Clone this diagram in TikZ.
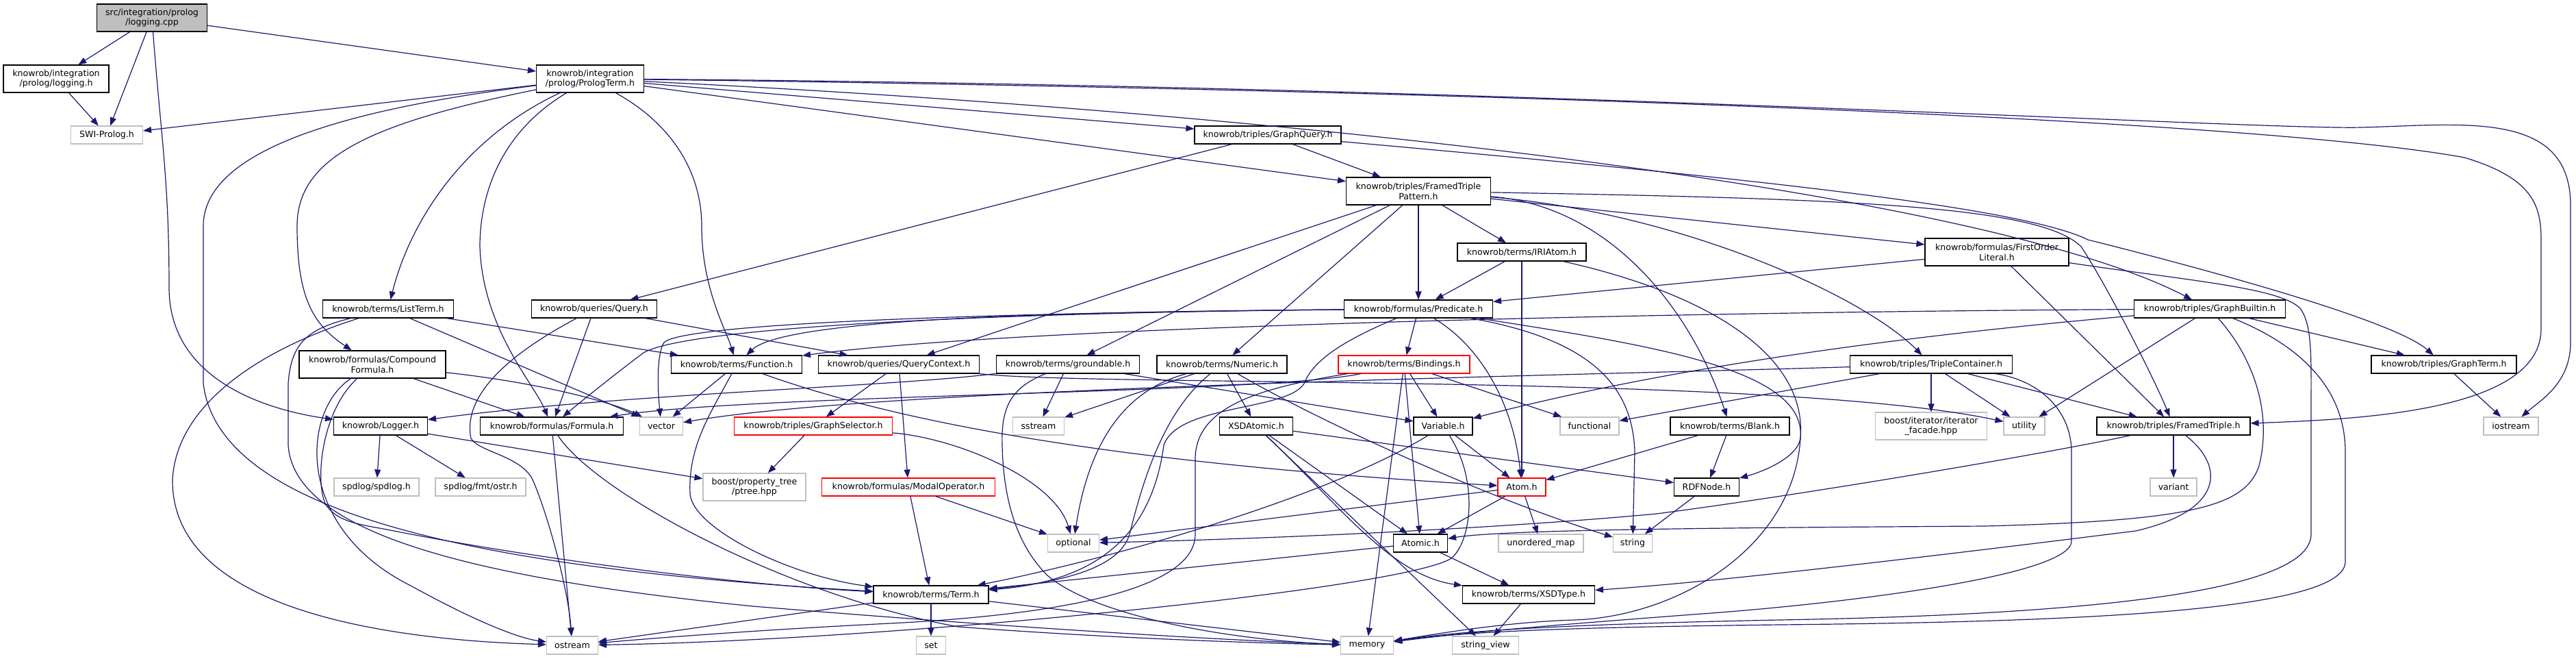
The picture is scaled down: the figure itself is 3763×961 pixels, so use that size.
\documentclass[tikz,border=0pt]{standalone}
\usepackage{fontspec}
\setmainfont{DejaVu Sans}
\usetikzlibrary{arrows.meta}
\definecolor{edgec}{HTML}{191970}
\definecolor{greyc}{HTML}{BFBFBF}
\begin{document}
\begin{tikzpicture}[x=1pt,y=-1pt,
  box/.style={draw, line width=1.1pt, fill=white, inner sep=0pt, align=center, font=\fontsize{12.6}{14.6}\selectfont},
  proj/.style={box, draw=black},
  sys/.style={box, draw=greyc},
  trunc/.style={box, draw=red},
  root/.style={box, draw=black, fill=greyc},
  dep/.style={draw=edgec, line width=1.2pt, -{Triangle[length=12pt,width=9pt]}},
  sa/.style={minimum height=26pt},
  sb/.style={minimum height=40pt},
  mw/.style={minimum width=#1pt},
]
\fill[white] (0,0) rectangle (3763,961);
\path[use as bounding box] (0,0) rectangle (3763,961);

% ---------- nodes ----------
\node[root,sb,mw=161] (cpp) at (222,26) {src/integration/prolog\\/logging.cpp};
\node[proj,sb,mw=154] (logh) at (82,115) {knowrob/integration\\/prolog/logging.h};
\node[sys,sa,mw=105] (swi) at (156,197) {SWI-Prolog.h};
\node[proj,sb,mw=157] (plt) at (862,115) {knowrob/integration\\/prolog/PrologTerm.h};
\node[proj,sa,mw=214] (gq) at (1852,197) {knowrob/triples/GraphQuery.h};
\node[proj,sb,mw=211] (ftp) at (2072,279) {knowrob/triples/FramedTriple\\Pattern.h};
\node[proj,sa,mw=188] (iri) at (2223,368) {knowrob/terms/IRIAtom.h};
\node[proj,sb,mw=210] (fol) at (2917,368) {knowrob/formulas/FirstOrder\\Literal.h};
\node[proj,sa,mw=191] (list) at (567,451) {knowrob/terms/ListTerm.h};
\node[proj,sa,mw=183] (query) at (868,451) {knowrob/queries/Query.h};
\node[proj,sa,mw=217] (pred) at (2072,451) {knowrob/formulas/Predicate.h};
\node[proj,sa,mw=221] (gb) at (3228,451) {knowrob/triples/GraphBuiltin.h};
\node[proj,sb,mw=214] (cf) at (544,532) {knowrob/formulas/Compound\\Formula.h};
\node[proj,sa,mw=191] (func) at (1076,532) {knowrob/terms/Function.h};
\node[proj,sa,mw=235] (qc) at (1313,532) {knowrob/queries/QueryContext.h};
\node[proj,sa,mw=209] (gr) at (1560,532) {knowrob/terms/groundable.h};
\node[proj,sa,mw=190] (num) at (1785,532) {knowrob/terms/Numeric.h};
\node[trunc,sa,mw=192] (bind) at (2051,532) {knowrob/terms/Bindings.h};
\node[proj,sa,mw=237] (tc) at (2821,532) {knowrob/triples/TripleContainer.h};
\node[proj,sa,mw=212] (gt) at (3570,532) {knowrob/triples/GraphTerm.h};
\node[proj,sa,mw=137] (logger) at (556,622) {knowrob/Logger.h};
\node[proj,sa,mw=209] (formula) at (806,622) {knowrob/formulas/Formula.h};
\node[sys,sa,mw=63] (vector) at (966,622) {vector};
\node[trunc,sa,mw=231] (gs) at (1188,622) {knowrob/triples/GraphSelector.h};
\node[sys,sa,mw=75] (sstream) at (1517,622) {sstream};
\node[proj,sa,mw=107] (xsda) at (1835,622) {XSDAtomic.h};
\node[proj,sa,mw=86] (var) at (2108,622) {Variable.h};
\node[sys,sa,mw=86] (functional) at (2322,622) {functional};
\node[proj,sa,mw=174] (blank) at (2527,622) {knowrob/terms/Blank.h};
\node[sys,sb,mw=163] (iter) at (2821,622) {boost/iterator/iterator\\\_facade.hpp};
\node[sys,sa,mw=60] (utility) at (2957,622) {utility};
\node[proj,sa,mw=224] (ft) at (3175,622) {knowrob/triples/FramedTriple.h};
\node[sys,sa,mw=80] (iostream) at (3668,622) {iostream};
\node[sys,sa,mw=124] (spdlog) at (550,711) {spdlog/spdlog.h};
\node[sys,sa,mw=132] (ostr) at (702,711) {spdlog/fmt/ostr.h};
\node[sys,sb,mw=150] (ptree) at (1102,711) {boost/property\_tree\\/ptree.hpp};
\node[trunc,sa,mw=253] (modal) at (1327,711) {knowrob/formulas/ModalOperator.h};
\node[trunc,sa,mw=70] (atom) at (2223,711) {Atom.h};
\node[proj,sa,mw=95] (rdf) at (2493,711) {RDFNode.h};
\node[sys,sa,mw=68] (variant) at (3175,711) {variant};
\node[sys,sa,mw=75] (optional) at (1568,793) {optional};
\node[proj,sa,mw=79] (atomic) at (2075,793) {Atomic.h};
\node[sys,sa,mw=124] (umap) at (2251,793) {unordered\_map};
\node[sys,sa,mw=57] (string) at (2385,793) {string};
\node[proj,sa,mw=168] (term) at (1360,868) {knowrob/terms/Term.h};
\node[proj,sa,mw=193] (xsdt) at (2233,868) {knowrob/terms/XSDType.h};
\node[sys,sa,mw=75] (ostream) at (836,942) {ostream};
\node[sys,sa,mw=43] (set) at (1360,942) {set};
\node[sys,sa,mw=77] (memory) at (1997,942) {memory};
\node[sys,sa,mw=97] (sview) at (2170,942) {string\_view};

% ---------- edges ----------
\draw[dep] (cpp) -- (logh);
\draw[dep] (cpp) -- (swi);
\draw[dep] (cpp) -- (plt);
\draw[dep] (cpp) .. controls (235,200) and (247,260) .. (247,420) .. controls (247,560) and (400,600) .. (logger);
\draw[dep] (logh) -- (swi);

\draw[dep] (plt) -- (swi);
\draw[dep] (plt) -- (gq);
\draw[dep] (plt) -- (ftp);
\draw[dep] (plt) .. controls (680,200) and (600,320) .. (list);
\draw[dep] (plt) .. controls (540,180) and (434,230) .. (434,330) .. controls (434,440) and (460,475) .. (cf);
\draw[dep] (plt) .. controls (720,200) and (701,300) .. (701,360) .. controls (705,480) and (780,560) .. (formula);
\draw[dep] (plt) .. controls (980,180) and (1025,250) .. (1025,330) .. controls (1025,420) and (1060,480) .. (func);
\draw[dep] (plt) .. controls (500,160) and (297,220) .. (297,330) -- (297,560) .. controls (320,750) and (700,830) .. (term);
\draw[dep] (plt) .. controls (1900,165) and (2900,280) .. (gb);
\draw[dep] (plt) .. controls (2200,125) and (3300,190) .. (3450,186) .. controls (3600,182) and (3755,160) .. (3755,300) -- (3755,500) .. controls (3755,560) and (3710,585) .. (iostream);
\draw[dep] (plt) .. controls (2200,132) and (3300,175) .. (3600,230) .. controls (3700,260) and (3712,300) .. (3712,350) -- (3712,480) .. controls (3712,600) and (3450,612) .. (ft);

\draw[dep] (gq) -- (ftp);
\draw[dep] (gq) -- (query);
\draw[dep] (gq) .. controls (2500,255) and (2950,300) .. (3050,350) .. controls (3250,400) and (3500,470) .. (gt);

\draw[dep] (ftp) .. controls (2700,290) and (2980,300) .. (3040,360) .. controls (3080,420) and (3150,560) .. (ft);
\draw[dep] (ftp) -- (fol);
\draw[dep] (ftp) .. controls (2450,310) and (2720,430) .. (tc);
\draw[dep] (ftp) .. controls (2350,300) and (2470,450) .. (blank);
\draw[dep] (ftp) -- (iri);
\draw[dep] (ftp) -- (pred);
\draw[dep] (ftp) -- (num);
\draw[dep] (ftp) -- (gr);
\draw[dep] (ftp) -- (qc);

\draw[dep] (iri) -- (pred);
\draw[dep] (iri) -- (atom);
\draw[dep] (iri) .. controls (2500,430) and (2640,520) .. (2630,640) .. controls (2625,670) and (2570,690) .. (rdf);

\draw[dep] (fol) -- (pred);
\draw[dep] (fol) -- (ft);
\draw[dep] (fol) .. controls (3200,410) and (3330,420) .. (3360,450) .. controls (3378,475) and (3376,520) .. (3376,600) -- (3376,780) .. controls (3376,870) and (3000,898) .. (2600,905) .. controls (2350,910) and (2150,918) .. (memory);

\draw[dep] (list) -- (func);
\draw[dep] (list) -- (vector);
\draw[dep] (list) .. controls (380,510) and (258,590) .. (252,700) .. controls (250,900) and (600,935) .. (ostream);
\draw[dep] (list) .. controls (450,480) and (425,500) .. (421,560) -- (421,650) .. controls (430,780) and (700,845) .. (1100,885) .. controls (1500,918) and (1800,935) .. (memory);

\draw[dep] (query) -- (qc);
\draw[dep] (query) -- (formula);
\draw[dep] (query) .. controls (700,540) and (680,600) .. (688,640) .. controls (700,660) and (760,665) .. (778,700) .. controls (800,750) and (830,860) .. (ostream);

\draw[dep] (cf) -- (formula);
\draw[dep] (cf) .. controls (800,560) and (900,590) .. (vector);
\draw[dep] (cf) .. controls (470,600) and (460,700) .. (475,735) .. controls (490,760) and (520,765) .. (560,772) .. controls (800,820) and (1100,855) .. (term);
\draw[dep] (cf) .. controls (440,600) and (430,770) .. (600,855) .. controls (700,910) and (760,932) .. (ostream);

\draw[dep] (func) -- (vector);
\draw[dep] (func) .. controls (1040,600) and (1005,650) .. (1008,720) .. controls (1010,770) and (1150,840) .. (term);
\draw[dep] (func) .. controls (1350,630) and (1700,680) .. (atom);

\draw[dep] (qc) -- (gs);
\draw[dep] (qc) -- (modal);
\draw[dep] (qc) .. controls (1600,565) and (2600,545) .. (utility);

\draw[dep] (gr) .. controls (1300,565) and (900,575) .. (logger);
\draw[dep] (gr) -- (sstream);
\draw[dep] (gr) -- (var);
\draw[dep] (gr) .. controls (1480,565) and (1462,590) .. (1464,650) .. controls (1466,740) and (1490,800) .. (1530,840) .. controls (1600,900) and (1800,935) .. (memory);

\draw[dep] (num) -- (sstream);
\draw[dep] (num) -- (xsda);
\draw[dep] (num) .. controls (1640,570) and (1590,650) .. (optional);
\draw[dep] (num) .. controls (1700,600) and (1670,700) .. (1650,780) .. controls (1635,830) and (1550,850) .. (term);
\draw[dep] (num) .. controls (1900,600) and (2150,720) .. (string);

\draw[dep] (pred) -- (bind);
\draw[dep] (pred) .. controls (2170,510) and (2212,600) .. (atom);
\draw[dep] (pred) .. controls (2320,495) and (2385,560) .. (2388,660) -- (string);
\draw[dep] (pred) .. controls (2420,505) and (2640,540) .. (2630,640) .. controls (2620,800) and (2450,900) .. (2300,905) .. controls (2200,908) and (2100,925) .. (memory);
\draw[dep] (pred) .. controls (1600,455) and (1150,462) .. (func);
\draw[dep] (pred) .. controls (1500,456) and (1000,470) .. (970,500) .. controls (960,515) and (960,560) .. (vector);
\draw[dep] (pred) .. controls (1400,457) and (1000,480) .. (940,515) .. controls (900,545) and (850,585) .. (formula);
\draw[dep] (pred) .. controls (1980,490) and (1920,520) .. (1905,560) .. controls (1880,600) and (1720,590) .. (1700,650) .. controls (1680,800) and (1580,850) .. (term);

\draw[dep] (bind) -- (var);
\draw[dep] (bind) -- (functional);
\draw[dep] (bind) -- (memory);
\draw[dep] (bind) -- (atomic);
\draw[dep] (bind) .. controls (1850,565) and (1746,590) .. (1746,670) -- (1746,780) .. controls (1746,870) and (1500,900) .. (1300,910) .. controls (1100,920) and (950,932) .. (ostream);
\draw[dep] (bind) .. controls (1850,575) and (1100,575) .. (formula);

\draw[dep] (var) .. controls (1950,720) and (1650,810) .. (term);
\draw[dep] (var) -- (atom);
\draw[dep] (var) .. controls (2160,700) and (2150,790) .. (2120,815) .. controls (2050,860) and (1300,935) .. (ostream);

\draw[dep] (blank) -- (atom);
\draw[dep] (blank) -- (rdf);

\draw[dep] (xsda) -- (atomic);
\draw[dep] (xsda) .. controls (1950,730) and (2030,840) .. (xsdt);
\draw[dep] (xsda) -- (sview);
\draw[dep] (xsda) -- (rdf);

\draw[dep] (tc) -- (functional);
\draw[dep] (tc) -- (iter);
\draw[dep] (tc) -- (utility);
\draw[dep] (tc) -- (ft);
\draw[dep] (tc) .. controls (2980,555) and (3026,600) .. (3026,660) -- (3026,790) .. controls (3026,840) and (2700,880) .. (2500,895) .. controls (2300,910) and (2150,922) .. (memory);
\draw[dep] (tc) .. controls (2300,548) and (1300,565) .. (vector);

\draw[dep] (gt) -- (iostream);

\draw[dep] (gb) .. controls (2500,455) and (1500,475) .. (func);
\draw[dep] (gb) .. controls (2900,480) and (2500,520) .. (var);
\draw[dep] (gb) -- (utility);
\draw[dep] (gb) -- (gt);
\draw[dep] (gb) .. controls (3290,520) and (3320,600) .. (3300,680) .. controls (3280,740) and (3200,760) .. (2900,768) .. controls (2600,770) and (2200,772) .. (atomic);
\draw[dep] (gb) .. controls (3350,500) and (3426,560) .. (3426,660) -- (3426,820) .. controls (3426,895) and (3000,908) .. (2600,912) .. controls (2350,915) and (2150,920) .. (memory);

\draw[dep] (atom) -- (atomic);
\draw[dep] (atom) -- (umap);
\draw[dep] (atom) -- (optional);
\draw[dep] (atomic) -- (xsdt);
\draw[dep] (atomic) -- (term);
\draw[dep] (rdf) -- (string);
\draw[dep] (term) -- (set);
\draw[dep] (term) -- (ostream);
\draw[dep] (term) -- (memory);
\draw[dep] (xsdt) -- (sview);

\draw[dep] (ft) -- (variant);
\draw[dep] (ft) .. controls (3250,680) and (3250,745) .. (3120,775) .. controls (2800,815) and (2500,850) .. (xsdt);
\draw[dep] (ft) .. controls (3000,660) and (2650,720) .. (2420,750) .. controls (2150,775) and (1800,788) .. (optional);

\draw[dep] (gs) -- (ptree);
\draw[dep] (gs) .. controls (1400,640) and (1540,700) .. (optional);
\draw[dep] (modal) -- (optional);
\draw[dep] (modal) -- (term);

\draw[dep] (logger) -- (spdlog);
\draw[dep] (logger) -- (ostr);
\draw[dep] (logger) -- (ptree);
\draw[dep] (formula) -- (ostream);
\draw[dep] (formula) .. controls (870,720) and (1150,870) .. (1400,915) .. controls (1600,930) and (1800,938) .. (memory);
\end{tikzpicture}
\end{document}
